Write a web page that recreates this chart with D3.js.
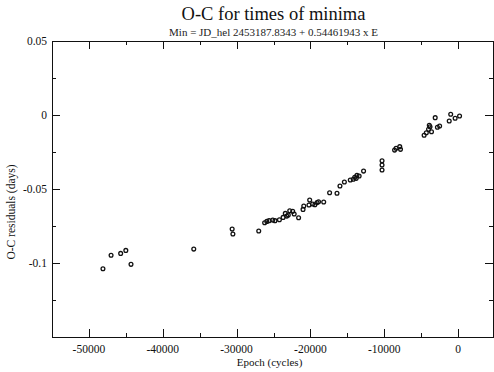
<!DOCTYPE html>
<html><head><meta charset="utf-8">
<script src="https://cdn.jsdelivr.net/npm/d3@7"></script>
<style>body{margin:0;background:#fff}svg{display:block}</style>
</head><body><svg id="c" width="494" height="372"></svg>
<script>
const titleText = "O-C for times of minima";
const subtitleText = "Min = JD_hel 2453187.8343 + 0.54461943 x E";
const xLabel = "Epoch (cycles)";
const yLabel = "O-C residuals (days)";
const xTicks = [-50000, -40000, -30000, -20000, -10000, 0];
const yTicks = [0.05, 0, -0.05, -0.1];
const yTickLabels = ["0.05", "0", "-0.05", "-0.1"];
const epochs = [-48100,-47000,-45700,-45000,-44300,-35800,
 -30600,-30500,-27000,-26200,-25900,-25600,-25100,-24800,-24200,-23700,-23400,-23200,-23000,-22800,-22400,-22200,-21600,
 -21000,-20900,-20200,-20100,-19700,-19400,-19100,-18900,-18200,-17400,-16400,-16000,-15400,-14600,-14000,-13700,
 -14200,-13800,-13400,-12800,-10300,-10300,-10300,-8600,-8400,-7900,-7800,
 -4600,-4300,-4000,-3800,-3900,-3600,-3100,-2800,-2500,-1200,-1000,-400,200];
const residuals = [-0.1039,-0.0948,-0.0935,-0.0915,-0.1009,-0.0906,
 -0.0771,-0.0804,-0.0784,-0.0728,-0.0719,-0.0714,-0.0710,-0.0714,-0.0708,-0.0692,-0.0665,-0.0683,-0.0676,-0.0647,-0.0651,-0.0669,-0.0694,
 -0.0638,-0.0615,-0.0608,-0.0575,-0.0601,-0.0606,-0.0592,-0.0586,-0.0588,-0.0525,-0.0529,-0.0480,-0.0453,-0.0439,-0.0421,-0.0408,
 -0.0434,-0.0428,-0.0412,-0.0379,-0.0309,-0.0338,-0.0372,-0.0237,-0.0225,-0.0214,-0.0232,
 -0.0137,-0.0120,-0.0097,-0.0079,-0.0070,-0.0113,-0.0018,-0.0083,-0.0074,-0.0041,0.0005,-0.0022,-0.0007];

const svg = d3.select("#c");
const L=52, R=493, T=41, B=337;
const x = d3.scaleLinear().domain([-55000,5000]).range([L,R+2]);
const y = d3.scaleLinear().domain([-0.15,0.05]).range([B,T]);
const serif = "'Liberation Serif','DejaVu Serif',serif";

const minorX = d3.range(-55000,5001,5000).filter(v=>v%10000!==0);
const majorX = d3.range(-50000,1,10000);
const majorY = d3.range(-0.15,0.0501,0.05);
const minorY = d3.range(-0.125,0.05,0.05);

const g = svg.append("g").attr("stroke","#111").attr("stroke-width",1);
majorX.forEach(v=>{const px=Math.round(x(v))+0.5;
  g.append("line").attr("x1",px).attr("x2",px).attr("y1",B).attr("y2",B-8);
  g.append("line").attr("x1",px).attr("x2",px).attr("y1",T).attr("y2",T+8);});
minorX.forEach(v=>{const px=Math.round(x(v))+0.5;
  g.append("line").attr("x1",px).attr("x2",px).attr("y1",B).attr("y2",B-4);
  g.append("line").attr("x1",px).attr("x2",px).attr("y1",T).attr("y2",T+4);});
majorY.forEach(v=>{const py=Math.round(y(v))+0.5;
  g.append("line").attr("x1",L).attr("x2",L+8).attr("y1",py).attr("y2",py);
  g.append("line").attr("x1",R).attr("x2",R-8).attr("y1",py).attr("y2",py);});
minorY.forEach(v=>{const py=Math.round(y(v))+0.5;
  g.append("line").attr("x1",L).attr("x2",L+4).attr("y1",py).attr("y2",py);
  g.append("line").attr("x1",R).attr("x2",R-4).attr("y1",py).attr("y2",py);});
svg.append("rect").attr("x",L+0.5).attr("y",T+0.5).attr("width",R-L).attr("height",B-T)
  .attr("fill","none").attr("stroke","#111").attr("stroke-width",1);

svg.append("g").selectAll("text").data(xTicks).join("text")
  .attr("x",d=>x(d)).attr("y",B+15.5).attr("text-anchor","middle")
  .attr("font-family",serif).attr("font-size",11.5).attr("fill","#111").text(d=>d);
svg.append("g").selectAll("text").data(yTicks).join("text")
  .attr("x",L-5).attr("y",(d)=>y(d)+4).attr("text-anchor","end")
  .attr("font-family",serif).attr("font-size",11.5).attr("fill","#111").text((d,i)=>yTickLabels[i]);

const cx=(L+R)/2;
svg.append("text").attr("x",cx+1).attr("y",20).attr("text-anchor","middle")
  .attr("font-family",serif).attr("font-size",18.5).attr("fill","#111").text(titleText);
svg.append("text").attr("x",cx+1).attr("y",35.5).attr("text-anchor","middle")
  .attr("font-family",serif).attr("font-size",11).attr("fill","#222").text(subtitleText);
svg.append("text").attr("x",cx-3).attr("y",366).attr("text-anchor","middle")
  .attr("font-family",serif).attr("font-size",11).attr("fill","#111").text(xLabel);
svg.append("text").attr("transform",`translate(15,212) rotate(-90)`).attr("text-anchor","middle")
  .attr("font-family",serif).attr("font-size",11.5).attr("fill","#111").text(yLabel);

svg.append("g").selectAll("circle").data(epochs.map((e,i)=>[e,residuals[i]])).join("circle")
  .attr("cx",d=>x(d[0])).attr("cy",d=>y(d[1])).attr("r",1.9)
  .attr("fill","none").attr("stroke","#111").attr("stroke-width",1.3);
</script></body></html>
